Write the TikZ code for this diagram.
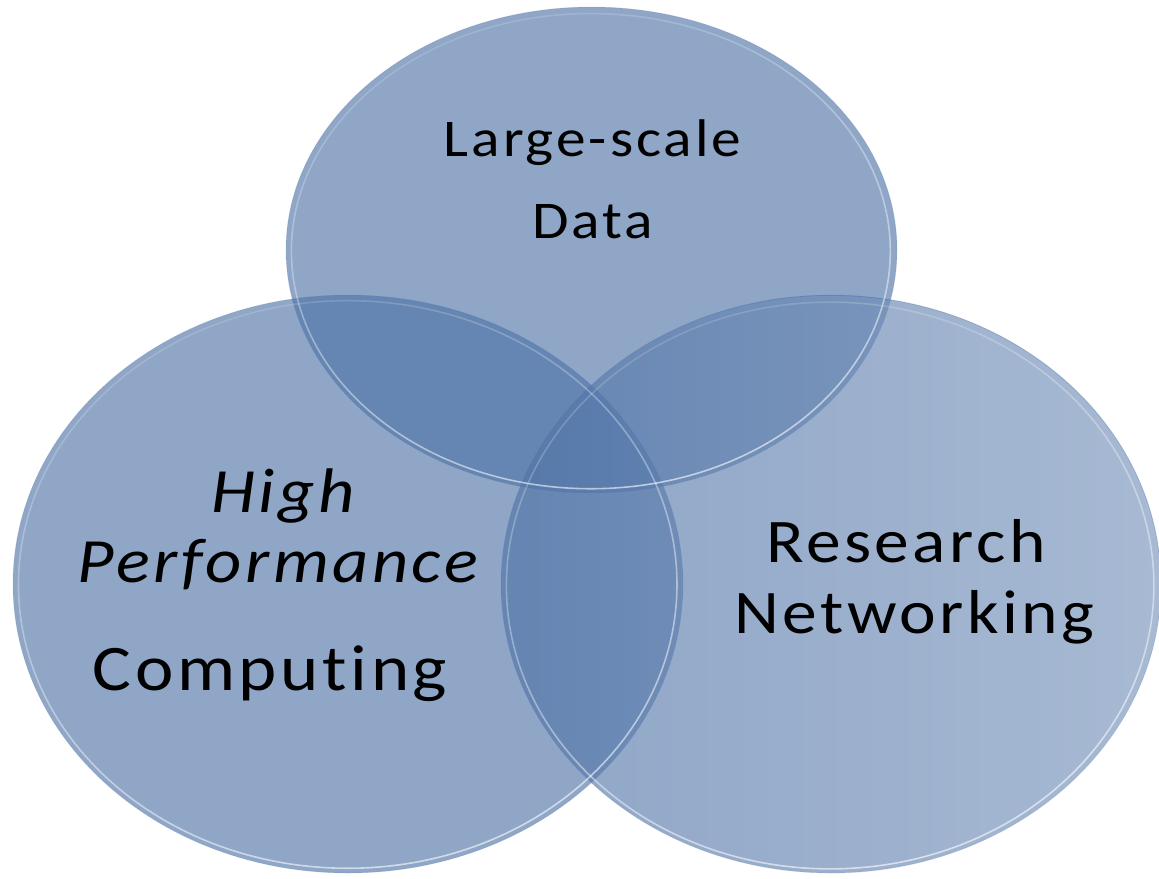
\documentclass[tikz,border=0pt]{standalone}
\usepackage{fontspec}
\usepackage{graphicx}
\setmainfont{Carlito}
\newfontfamily\lblfont[LetterSpace=5,Ligatures=NoCommon]{Carlito}
\usetikzlibrary{fadings}
\definecolor{vennblue}{RGB}{78,115,167}
\tikzfading[name=fadeleft, left color=transparent!100, right color=transparent!0]
\tikzfading[name=rimfade, top color=transparent!75, bottom color=transparent!0]
\newcommand\widetext[1]{\scalebox{1.12}[1]{#1}}
\tikzset{
  disc/.style={fill=vennblue, fill opacity=0.63, draw=vennblue, draw opacity=0.15, line width=0.8pt},
  rim/.style={draw=white, draw opacity=0.6, line width=1.6pt, path fading=rimfade, fading angle=20},
  lbl/.style={text=black, inner sep=0pt, anchor=base},
}
\begin{document}
\begin{tikzpicture}[x=1pt, y=-1pt]
\useasboundingbox (0,0) rectangle (1159,878);
\fill[white] (0,0) rectangle (1159,878);
% discs
\path[disc] (591.5,250) ellipse [x radius=305.5pt, y radius=243pt];
\path[disc] (348,584) ellipse [x radius=335pt, y radius=289pt];
\path[disc] (831,584) ellipse [x radius=330pt, y radius=289pt];
% light gradient on the right disc
\fill[white, fill opacity=0.22, path fading=fadeleft] (831,584) ellipse [x radius=330pt, y radius=289pt];
% rims
\path[rim] (591.5,250) ellipse [x radius=300pt, y radius=238pt];
\path[rim] (348,584) ellipse [x radius=329.5pt, y radius=284pt];
\path[rim] (831,584) ellipse [x radius=324.5pt, y radius=284pt];
% labels
\node[lbl, font={\lblfont\fontsize{53}{60}\selectfont}] (ls) at (592.5,156) {\widetext{Large-scale}};
\node[lbl, font={\lblfont\fontsize{53}{60}\selectfont}] (da) at (592.5,238) {\widetext{Data}};
\node[lbl, font={\lblfont\itshape\fontsize{63}{70}\selectfont}] (hi) at (283,512) {\widetext{High}};
\node[lbl, font={\lblfont\itshape\fontsize{63}{70}\selectfont}] (pe) at (278,582) {\widetext{Performance}};
\node[lbl, font={\lblfont\fontsize{65}{72}\selectfont}] (co) at (270,690) {\widetext{Computing}};
\node[lbl, font={\lblfont\fontsize{62}{70}\selectfont}] (re) at (906,562) {\widetext{Research}};
\node[lbl, font={\lblfont\fontsize{62}{70}\selectfont}] (ne) at (914.5,633) {\widetext{Networking}};
\end{tikzpicture}
\end{document}
